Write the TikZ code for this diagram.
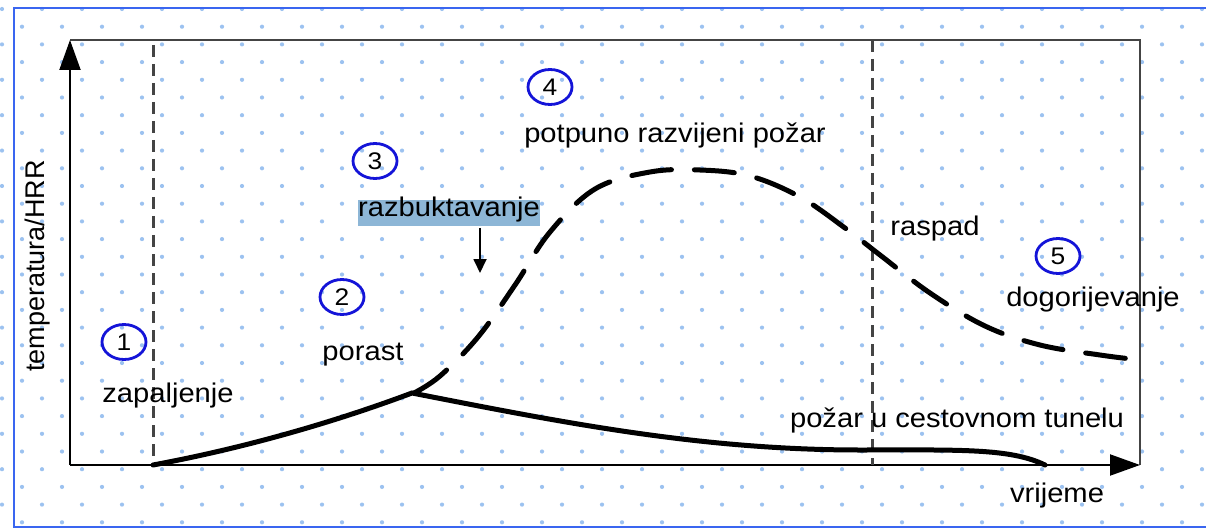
\documentclass[tikz,border=0pt]{standalone}
\usepackage{fontspec}
\setmainfont{Liberation Sans}
\usetikzlibrary{arrows.meta,shapes.geometric}
\definecolor{dotc}{HTML}{9CC2F0}
\definecolor{frameblue}{HTML}{3A66F0}
\definecolor{circblue}{HTML}{1414D8}
\definecolor{hl}{HTML}{8DB6D6}
\definecolor{framegray}{HTML}{444444}
\newcommand\wide[1]{\scalebox{1.08}[1]{#1}}
\newcommand\widenum[1]{\scalebox{1.1}[1]{#1}}
\tikzset{
  lbl/.style={font=\fontsize{27}{32}\selectfont, text=black, inner sep=0pt, anchor=base},
  num/.style={ellipse, draw=circblue, line width=2.8pt, minimum width=44pt, minimum height=35pt, inner sep=0pt, font=\fontsize{24}{28}\selectfont},
  axis/.style={line width=2pt, -{Triangle[length=30pt,width=21pt]}},
  vdash/.style={framegray, line width=3pt, dash pattern=on 12pt off 7pt},
  curve/.style={line width=5pt, line cap=round},
  dcurve/.style={line width=5pt, line cap=round, dash pattern=on 40pt off 23pt}
}
\begin{document}
\begin{tikzpicture}[x=1pt,y=-1pt]
\useasboundingbox (0,0) rectangle (1206,529);
\fill[white] (0,0) rectangle (1206,529);
% dot pattern
\foreach \j in {0,...,29}{
  \pgfmathsetmacro\yy{9+17.7*\j}
  \pgfmathsetmacro\off{mod(\j,2)*20+2}
  \foreach \i in {0,...,30}{
    \fill[dotc] (\off+40*\i,\yy) circle (2.1);
  }
}
% outer blue frame
\draw[frameblue, line width=2.2pt] (1210,8) -- (14,8) -- (14,527) -- (1210,527);
% plot frame
\coordinate (o) at (70,465);
\coordinate (ytop) at (70,40);
\coordinate (xend) at (1140,465);
\coordinate (tr) at (1140,40);
\draw[framegray, line width=2.6pt] (ytop) -- (tr) -- (xend);
\draw[axis] (o) -- (ytop);
\draw[axis] (o) -- (xend);
% vertical dashed lines
\coordinate (d1t) at (153,45);
\coordinate (d1b) at (153,465);
\coordinate (d2t) at (872,40);
\coordinate (d2b) at (872,465);
\draw[vdash] (d1t) -- (d1b);
\draw[vdash] (d2t) -- (d2b);
% curves
\coordinate (start) at (153,465);
\coordinate (peak) at (412,393);
\coordinate (cend) at (1045,465);
\draw[curve] (start) .. controls (250,447) and (340,420) .. (peak)
  .. controls (560,422) and (700,450) .. (860,450)
  .. controls (960,450) and (1010,448) .. (cend);
\draw[dcurve] plot[smooth, tension=0.6] coordinates {(414,393) (440,376) (478,337) (515,285) (550,232) (595,189) (650,172) (700,170) (750,176) (800,197) (845,228) (880,255) (930,293) (985,326) (1040,345) (1100,355) (1140,360)};
% circles
\node[num] (n1) at (124,342) {\widenum{1}};
\node[num] (n2) at (342,297) {\widenum{2}};
\node[num] (n3) at (375,161) {\widenum{3}};
\node[num] (n4) at (550,87) {\widenum{4}};
\node[num] (n5) at (1058,256) {\widenum{5}};
% labels
\node[lbl] (zap) at (168,402) {\wide{zapaljenje}};
\node[lbl] (por) at (363,360) {\wide{porast}};
\fill[hl] (358,200) rectangle (540,226);
\node[lbl] (raz) at (449,217) {\wide{razbuktavanje}};
\node[lbl] (pot) at (675,143) {\wide{potpuno razvijeni požar}};
\node[lbl] (ras) at (935,236) {\wide{raspad}};
\node[lbl] (dog) at (1093,306) {\wide{dogorijevanje}};
\node[lbl] (tun) at (957,427) {\wide{požar u cestovnom tunelu}};
\node[lbl] (vri) at (1057,502) {\wide{vrijeme}};
\node[font=\fontsize{27}{32}\selectfont, rotate=90, inner sep=0pt] (yl) at (38,266) {temperatura/HRR};
% arrow
\coordinate (ar) at (480,273);
\draw[line width=1.8pt, -{Triangle[length=14pt,width=13pt]}] (480,228) -- (ar);
\end{tikzpicture}
\end{document}
